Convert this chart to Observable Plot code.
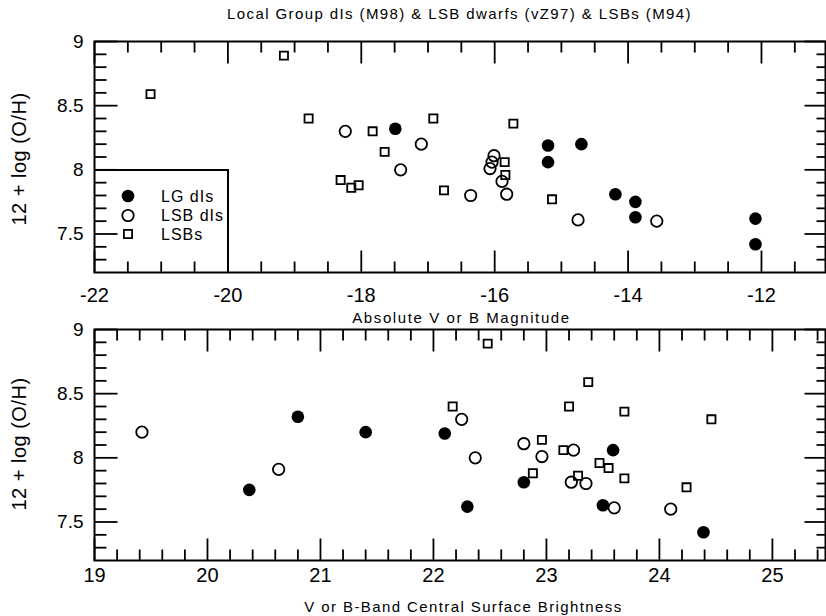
<!DOCTYPE html>
<html><head><meta charset="utf-8">
<script src="https://cdn.jsdelivr.net/npm/d3@7"></script>
<script src="https://cdn.jsdelivr.net/npm/@observablehq/plot@0.6"></script>
<style>
body{margin:0;background:#fff;}
#wrap{position:relative;width:826px;height:616px;overflow:hidden;font-family:"Liberation Sans",Arial,Helvetica,sans-serif;color:#000;background:#fff;}
.abs{position:absolute;white-space:nowrap;}
svg{overflow:visible;}
</style></head><body><div id="wrap"></div>
<script>
// ---- data ----
const categories = ["LG dIs", "LSB dIs", "LSBs"];
const titleText = "Local Group dIs (M98) & LSB dwarfs (vZ97) & LSBs (M94)";
const xTitleTop = "Absolute V or B Magnitude";
const xTitleBottom = "V or B-Band Central Surface Brightness";
const yTitle = "12 + log (O/H)";

// Local Group dIs (filled circles)
const lgOH  = [8.32, 8.20, 8.19, 8.06, 7.81, 7.75, 7.63, 7.62, 7.42];
const lgMag = [-17.49, -14.70, -15.20, -15.20, -14.19, -13.89, -13.89, -12.09, -12.09];
const lgSB  = [20.80, 21.40, 22.10, 23.59, 22.80, 20.37, 23.50, 22.30, 24.39];

// LSB dIs (open circles)
const lsbdOH  = [8.30, 8.20, 8.11, 8.06, 8.01, 8.00, 7.91, 7.81, 7.80, 7.61, 7.60];
const lsbdMag = [-18.24, -17.10, -16.01, -16.04, -16.07, -17.41, -15.89, -15.82, -16.36, -14.75, -13.57];
const lsbdSB  = [22.25, 19.42, 22.80, 23.24, 22.96, 22.37, 20.63, 23.22, 23.35, 23.60, 24.10];

// LSBs (open squares)
const lsbOH  = [8.89, 8.59, 8.40, 8.40, 8.36, 8.30, 8.14, 8.06, 7.96, 7.92, 7.88, 7.86, 7.84, 7.77];
const lsbMag = [-19.16, -21.16, -18.79, -16.92, -15.72, -17.83, -17.65, -15.85, -15.84, -18.31, -18.04, -18.15, -16.76, -15.14];
const lsbSB  = [22.48, 23.37, 22.17, 23.20, 23.69, 24.46, 22.96, 23.15, 23.47, 23.55, 22.88, 23.28, 23.69, 24.24];

// tick values
const magMajor = [-22, -20, -18, -16, -14, -12];
const magMinor = [-21.5, -21, -20.5, -19.5, -19, -18.5, -17.5, -17, -16.5, -15.5, -15, -14.5, -13.5, -13, -12.5, -11.5];
const sbMajor = [19, 20, 21, 22, 23, 24, 25];
const sbMinor = [19.2, 19.4, 19.6, 19.8, 20.2, 20.4, 20.6, 20.8, 21.2, 21.4, 21.6, 21.8, 22.2, 22.4, 22.6, 22.8, 23.2, 23.4, 23.6, 23.8, 24.2, 24.4, 24.6, 24.8, 25.2, 25.4];
const ohMajor = [7.5, 8, 8.5, 9];
const ohMinor = [7.3, 7.4, 7.6, 7.7, 7.8, 7.9, 8.1, 8.2, 8.3, 8.4, 8.6, 8.7, 8.8, 8.9];

// ---- build tables ----
const mkRows = (oh, mag, sb, type) => oh.map((v, i) => ({type, oh: v, mag: mag[i], sb: sb[i]}));
const lgRows = mkRows(lgOH, lgMag, lgSB, categories[0]);
const lsbdRows = mkRows(lsbdOH, lsbdMag, lsbdSB, categories[1]);
const lsbRows = mkRows(lsbOH, lsbMag, lsbSB, categories[2]);

const FONT = "'Liberation Sans', Arial, Helvetica, sans-serif";
const wrap = document.getElementById("wrap");
const TW = 1.8; // tick thickness

function place(el, left, topPx) {
  el.style.position = "absolute";
  el.style.left = left + "px";
  el.style.top = topPx + "px";
  wrap.appendChild(el);
  return el;
}

function layer(cfg, marks, scaleExtra) {
  return Plot.plot({
    width: 826, height: cfg.height,
    marginLeft: 94, marginRight: 1, marginTop: cfg.marginTop, marginBottom: cfg.marginBottom,
    x: Object.assign({domain: cfg.xDomain, label: null}, scaleExtra || {}),
    y: Object.assign({domain: [7.2, 9], label: null}, scaleExtra || {}),
    style: {fontFamily: FONT, color: "#000", background: "transparent"},
    marks
  });
}

// inward tick marks: small filled bars drawn as custom dot symbols anchored to the frame edges
const bar = (x0, y0, w, h) => ({draw(ctx) { ctx.rect(x0, y0, w, h); }});
const tickBottom = (values, len) => Plot.dot(values, {x: d => d, frameAnchor: "bottom", symbol: bar(-TW / 2, -len, TW, len), fill: "#000", stroke: "none"});
const tickTop = (values, len) => Plot.dot(values, {x: d => d, frameAnchor: "top", symbol: bar(-TW / 2, 0, TW, len), fill: "#000", stroke: "none"});
const tickLeft = (values, len) => Plot.dot(values, {y: d => d, frameAnchor: "left", symbol: bar(0, -TW / 2, len, TW), fill: "#000", stroke: "none"});
const tickRight = (values, len) => Plot.dot(values, {y: d => d, frameAnchor: "right", symbol: bar(-len, -TW / 2, len, TW), fill: "#000", stroke: "none"});

function panel(cfg, topPx) {
  // frame, ticks and data points
  place(layer(cfg, [
    tickBottom(cfg.xMinor, 11),
    tickBottom(cfg.xMajor, 22),
    tickTop(cfg.xMinor, 11),
    tickTop(cfg.xMajor, 22),
    tickLeft(ohMinor, 12),
    tickLeft(ohMajor, 23),
    tickRight(ohMinor, 9),
    tickRight(ohMajor, 21),
    Plot.dot(lgRows, {x: cfg.xKey, y: "oh", r: 6.3, fill: "#000", symbol: "circle"}),
    Plot.dot(lsbdRows, {x: cfg.xKey, y: "oh", r: 5.7, fill: "none", stroke: "#000", strokeWidth: 1.8, symbol: "circle"}),
    Plot.dot(lsbRows, {x: cfg.xKey, y: "oh", r: 4.6, fill: "none", stroke: "#000", strokeWidth: 1.8, symbol: "square"}),
    Plot.frame({stroke: "#000", strokeWidth: 2})
  ], {axis: null}), 0, topPx);
  // tick labels
  place(layer(cfg, [
    Plot.axisX(cfg.xMajor, {anchor: "bottom", tickSize: 0, tickPadding: cfg.labelPad, tickFormat: d => String(d), fontSize: 20, label: null}),
    Plot.axisY(ohMajor, {anchor: "left", tickSize: 0, tickPadding: 11, tickFormat: d => String(d), fontSize: 19, label: null})
  ]), 0, topPx);
}

panel({xKey: "mag", xDomain: [-22, -11.04], xMajor: magMajor, xMinor: magMinor, labelPad: 15, height: 296, marginTop: 11, marginBottom: 54}, 30);
panel({xKey: "sb", xDomain: [19, 25.47], xMajor: sbMajor, xMinor: sbMinor, labelPad: 7, height: 290, marginTop: 3, marginBottom: 56}, 326);

function textDiv(text, {left, y, width, size, spacing, lh, rotate}) {
  const d = document.createElement("div");
  d.className = "abs";
  d.textContent = text;
  d.style.fontSize = size + "px";
  d.style.letterSpacing = spacing + "px";
  d.style.lineHeight = lh + "px";
  d.style.height = lh + "px";
  d.style.width = width + "px";
  d.style.textAlign = "center";
  if (rotate) d.style.transform = "rotate(-90deg)";
  return place(d, left, y);
}

// titles
textDiv(titleText, {left: 94, y: 4.3, width: 731, size: 15, spacing: 1.4, lh: 20});
textDiv(xTitleTop, {left: 96, y: 307.7, width: 731, size: 15, spacing: 1.6, lh: 20});
textDiv(xTitleBottom, {left: 98, y: 596.5, width: 731, size: 15, spacing: 1.4, lh: 20});
textDiv(yTitle, {left: 18.5 - 115.5, y: 158.7 - 12, width: 231, size: 20, spacing: 0.5, lh: 24, rotate: true});
textDiv(yTitle, {left: 18.5 - 115.5, y: 444 - 12, width: 231, size: 20, spacing: 0.5, lh: 24, rotate: true});

// legend box (inside top panel, lower-left)
const legendBox = document.createElement("div");
legendBox.style.cssText = "width:135px;height:103px;border-top:2px solid #000;border-right:2px solid #000;box-sizing:border-box;";
place(legendBox, 94, 169);
const legendSvg = d3.create("svg").attr("width", 135).attr("height", 103)
  .style("position", "absolute").style("left", "94px").style("top", "169px");
const legendRowY = [27, 46.5, 65];
const legendSymX = 34;
legendSvg.append("circle").attr("cx", legendSymX).attr("cy", legendRowY[0]).attr("r", 6.3).attr("fill", "#000");
legendSvg.append("circle").attr("cx", legendSymX).attr("cy", legendRowY[1]).attr("r", 5.7).attr("fill", "none").attr("stroke", "#000").attr("stroke-width", 1.8);
legendSvg.append("rect").attr("x", legendSymX - 4.1).attr("y", legendRowY[2] - 4.1).attr("width", 8.2).attr("height", 8.2).attr("fill", "none").attr("stroke", "#000").attr("stroke-width", 1.8);
categories.forEach((c, i) => {
  legendSvg.append("text").attr("x", 67).attr("y", legendRowY[i]).attr("dy", "0.36em")
    .attr("font-family", FONT).attr("font-size", 16).attr("letter-spacing", 1).text(c);
});
wrap.appendChild(legendSvg.node());
</script>
</body></html>
